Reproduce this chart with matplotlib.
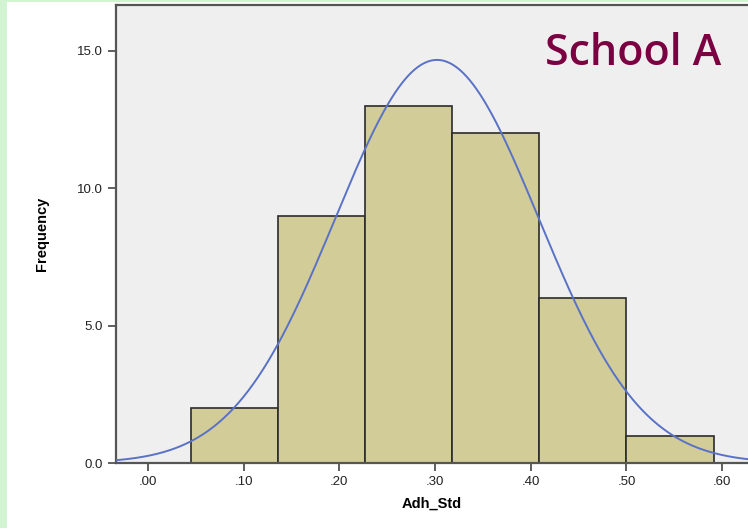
import numpy as np
import matplotlib.pyplot as plt
from matplotlib.patches import Rectangle

# histogram bins for Adh_Std and their counts
BIN_EDGES = [0.045, 0.136, 0.227, 0.318, 0.409, 0.500, 0.591]
COUNTS = [2, 9, 13, 12, 6, 1]
X_TICKS = [0.0, 0.1, 0.2, 0.3, 0.4, 0.5, 0.6]
X_TICK_LABELS = [".00", ".10", ".20", ".30", ".40", ".50", ".60"]
Y_TICKS = [0, 5, 10, 15]
Y_TICK_LABELS = ["0.0", "5.0", "10.0", "15.0"]

# fitted normal curve parameters
MEAN = 0.302
STD = 0.1064

BAR_COLOR = "#d2cd98"
CURVE_COLOR = "#5a72c6"
TITLE_COLOR = "#7b0042"

plt.rcParams["font.family"] = ["Liberation Sans", "DejaVu Sans"]

fig = plt.figure(figsize=(7.48, 5.28), dpi=100)
fig.patch.set_facecolor("white")
# thin green strip along the left and top edges
fig.add_artist(Rectangle((0, 0), 7 / 748, 1, transform=fig.transFigure,
                         facecolor="#d3f4d3", edgecolor="none"))
fig.add_artist(Rectangle((0, 1 - 2 / 528), 1, 2 / 528, transform=fig.transFigure,
                         facecolor="#d3f4d3", edgecolor="none"))

ax = fig.add_axes([116 / 748, 65 / 528, 1 - 116 / 748, 458 / 528])
ax.set_facecolor("#efefef")

widths = np.diff(BIN_EDGES)
ax.bar(BIN_EDGES[:-1], COUNTS, width=widths, align="edge",
       color=BAR_COLOR, edgecolor="#2b2b2b", linewidth=1.2, zorder=2)

n = sum(COUNTS)
bw = widths.mean()
xs = np.linspace(-0.04, 0.64, 400)
ys = n * bw / (STD * np.sqrt(2 * np.pi)) * np.exp(-0.5 * ((xs - MEAN) / STD) ** 2)
ax.plot(xs, ys, color=CURVE_COLOR, lw=1.4, zorder=3)

ax.set_xlim(-0.0335, 0.627)
ax.set_ylim(0, 16.67)
ax.set_xticks(X_TICKS)
ax.set_xticklabels(X_TICK_LABELS)
ax.set_yticks(Y_TICKS)
ax.set_yticklabels(Y_TICK_LABELS)
ax.tick_params(axis="both", direction="out", length=6, width=1.2,
               color="#444444", labelsize=9.5, labelcolor="#222222")

for side in ("left", "bottom", "top"):
    ax.spines[side].set_color("#555555")
    ax.spines[side].set_linewidth(1.6)
ax.spines["right"].set_visible(False)

ax.set_xlabel("Adh_Std", fontsize=10.5, fontweight="bold", labelpad=6)
ax.set_ylabel("Frequency", fontsize=10.5, fontweight="bold", labelpad=20)

ax.text(0.958, 0.94, "School A", transform=ax.transAxes, ha="right", va="top",
        fontsize=31, color=TITLE_COLOR, family="Open Sans", fontweight="semibold")

fig.savefig("out.png", dpi=100)
